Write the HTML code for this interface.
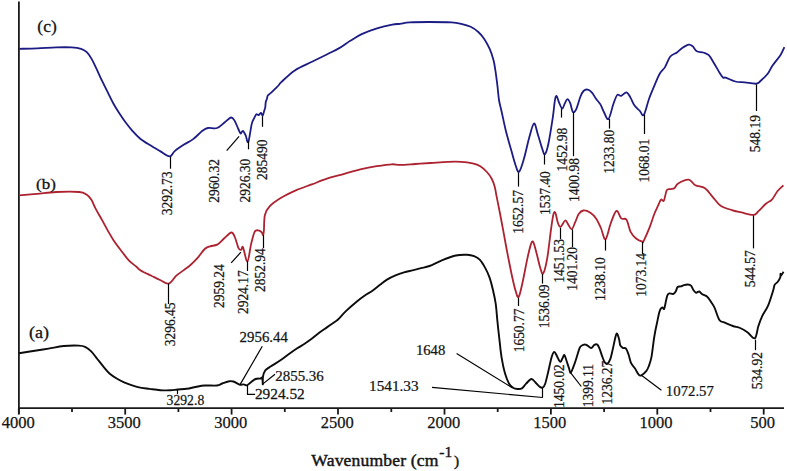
<!DOCTYPE html>
<html><head><meta charset="utf-8"><style>
html,body{margin:0;padding:0;background:#fff;}
body{width:787px;height:471px;overflow:hidden;}
svg{display:block;}
text{font-family:"Liberation Serif",serif;fill:#141414;stroke:#141414;stroke-width:0.25px;}
</style></head><body>
<svg width="787" height="471" viewBox="0 0 787 471">

<g stroke="#1a1a1a" stroke-width="1.8" fill="none">
<line x1="18.9" y1="1.5" x2="18.9" y2="414"/>
<line x1="18" y1="408.2" x2="784" y2="408.2"/>
<line x1="18.8" y1="408" x2="18.8" y2="414.6"/>
<line x1="72.0" y1="408" x2="72.0" y2="412"/>
<line x1="125.2" y1="408" x2="125.2" y2="414.6"/>
<line x1="178.4" y1="408" x2="178.4" y2="412"/>
<line x1="231.6" y1="408" x2="231.6" y2="414.6"/>
<line x1="284.8" y1="408" x2="284.8" y2="412"/>
<line x1="338.0" y1="408" x2="338.0" y2="414.6"/>
<line x1="391.3" y1="408" x2="391.3" y2="412"/>
<line x1="444.5" y1="408" x2="444.5" y2="414.6"/>
<line x1="497.7" y1="408" x2="497.7" y2="412"/>
<line x1="550.9" y1="408" x2="550.9" y2="414.6"/>
<line x1="604.1" y1="408" x2="604.1" y2="412"/>
<line x1="657.3" y1="408" x2="657.3" y2="414.6"/>
<line x1="710.5" y1="408" x2="710.5" y2="412"/>
<line x1="763.7" y1="408" x2="763.7" y2="414.6"/>
</g>
<path d="M19.00,48.80 C22.02,48.73 30.90,48.63 37.10,48.40 C43.30,48.17 50.47,47.57 56.20,47.40 C61.93,47.23 67.35,47.17 71.50,47.40 C75.65,47.63 78.55,48.00 81.10,48.80 C83.65,49.60 85.05,50.52 86.80,52.20 C88.55,53.88 90.02,56.20 91.60,58.90 C93.18,61.60 94.55,64.73 96.30,68.40 C98.05,72.07 100.18,76.92 102.10,80.90 C104.02,84.88 105.90,88.48 107.80,92.30 C109.70,96.12 111.58,100.30 113.50,103.80 C115.42,107.30 117.30,110.22 119.30,113.30 C121.30,116.38 123.32,119.38 125.50,122.30 C127.68,125.22 130.03,128.15 132.40,130.80 C134.77,133.45 136.93,135.90 139.70,138.20 C142.47,140.50 145.62,142.45 149.00,144.60 C152.38,146.75 156.57,149.13 160.00,151.10 C163.43,153.07 167.15,156.40 169.60,156.40 C172.05,156.40 172.30,153.07 174.70,151.10 C177.10,149.13 180.92,146.60 184.00,144.60 C187.08,142.60 190.13,141.40 193.20,139.10 C196.27,136.80 199.95,132.65 202.40,130.80 C204.85,128.95 205.45,128.47 207.90,128.00 C210.35,127.53 214.33,128.92 217.10,128.00 C219.87,127.08 222.20,124.25 224.50,122.50 C226.80,120.75 229.22,117.80 230.90,117.50 C232.58,117.20 233.37,118.78 234.60,120.70 C235.83,122.62 237.28,126.85 238.30,129.00 C239.32,131.15 239.93,133.30 240.70,133.60 C241.47,133.90 242.07,130.50 242.90,130.80 C243.73,131.10 244.80,133.53 245.70,135.40 C246.60,137.27 247.30,143.88 248.30,142.00 C249.30,140.12 250.72,128.08 251.70,124.10 C252.68,120.12 253.42,119.73 254.20,118.10 C254.98,116.47 255.68,114.80 256.40,114.30 C257.12,113.80 257.73,115.32 258.50,115.10 C259.27,114.88 260.30,112.92 261.00,113.00 C261.70,113.08 262.15,116.02 262.70,115.60 C263.25,115.18 263.87,111.92 264.30,110.50 C264.73,109.08 265.07,108.45 265.30,107.10 C265.53,105.75 265.42,103.82 265.70,102.40 C265.98,100.98 266.65,99.73 267.00,98.60 C267.35,97.47 267.10,96.60 267.80,95.60 C268.50,94.60 269.92,93.80 271.20,92.60 C272.48,91.40 274.22,89.67 275.50,88.40 C276.78,87.13 277.90,86.08 278.90,85.00 C279.90,83.92 278.85,84.33 281.50,81.90 C284.15,79.47 289.72,73.75 294.80,70.40 C299.88,67.05 306.58,64.50 312.00,61.80 C317.42,59.10 322.83,56.43 327.30,54.20 C331.77,51.97 334.97,50.63 338.80,48.40 C342.63,46.17 346.48,43.18 350.30,40.80 C354.12,38.42 357.25,36.17 361.70,34.10 C366.15,32.03 371.90,29.98 377.00,28.40 C382.10,26.82 388.47,25.37 392.30,24.60 C396.13,23.83 397.12,24.17 400.00,23.80 C402.88,23.43 404.82,22.70 409.60,22.40 C414.38,22.10 421.70,22.00 428.70,22.00 C435.70,22.00 446.18,22.10 451.60,22.40 C457.02,22.70 458.02,23.07 461.20,23.80 C464.38,24.53 467.85,25.43 470.70,26.80 C473.55,28.17 476.07,30.02 478.30,32.00 C480.53,33.98 482.18,35.83 484.10,38.70 C486.02,41.57 488.22,45.55 489.80,49.20 C491.38,52.85 492.65,56.93 493.60,60.60 C494.55,64.27 494.85,66.90 495.50,71.20 C496.15,75.50 496.92,81.60 497.50,86.40 C498.08,91.20 498.30,95.73 499.00,100.00 C499.70,104.27 500.55,106.83 501.70,112.00 C502.85,117.17 504.32,124.65 505.90,131.00 C507.48,137.35 509.60,144.43 511.20,150.10 C512.80,155.77 514.18,161.38 515.50,165.00 C516.82,168.62 517.68,172.87 519.10,171.80 C520.52,170.73 522.30,164.35 524.00,158.60 C525.70,152.85 527.63,143.15 529.30,137.30 C530.97,131.45 532.58,124.02 534.00,123.50 C535.42,122.98 536.47,130.12 537.80,134.20 C539.13,138.28 540.83,144.65 542.00,148.00 C543.17,151.35 543.73,155.02 544.80,154.30 C545.87,153.58 547.08,149.72 548.40,143.70 C549.72,137.68 551.63,125.28 552.70,118.20 C553.77,111.12 554.17,104.92 554.80,101.20 C555.43,97.48 555.80,95.72 556.50,95.90 C557.20,96.08 558.05,100.17 559.00,102.30 C559.95,104.43 561.23,108.52 562.20,108.70 C563.17,108.88 563.92,105.00 564.80,103.40 C565.68,101.80 566.58,99.10 567.50,99.10 C568.42,99.10 569.42,101.27 570.30,103.40 C571.18,105.53 571.85,110.85 572.80,111.90 C573.75,112.95 574.75,112.18 576.00,109.70 C577.25,107.22 579.05,100.12 580.30,97.00 C581.55,93.88 582.27,92.23 583.50,91.00 C584.73,89.77 586.28,89.32 587.70,89.60 C589.12,89.88 590.58,91.12 592.00,92.70 C593.42,94.28 594.80,97.15 596.20,99.10 C597.60,101.05 599.10,102.22 600.40,104.40 C601.70,106.58 602.65,109.77 604.00,112.20 C605.35,114.63 606.95,120.32 608.50,119.00 C610.05,117.68 611.85,108.30 613.30,104.30 C614.75,100.30 615.88,96.42 617.20,95.00 C618.52,93.58 619.65,96.25 621.20,95.80 C622.75,95.35 624.95,92.00 626.50,92.30 C628.05,92.60 629.17,95.38 630.50,97.60 C631.83,99.82 632.95,103.38 634.50,105.60 C636.05,107.82 638.25,109.35 639.80,110.90 C641.35,112.45 642.27,116.88 643.80,114.90 C645.33,112.92 647.23,103.87 649.00,99.00 C650.77,94.13 652.62,89.90 654.40,85.70 C656.18,81.50 657.93,76.90 659.70,73.80 C661.47,70.70 663.23,69.98 665.00,67.10 C666.77,64.22 668.32,58.93 670.30,56.50 C672.28,54.07 674.92,53.92 676.90,52.50 C678.88,51.08 680.20,49.32 682.20,48.00 C684.20,46.68 687.13,44.87 688.90,44.60 C690.67,44.33 691.48,45.30 692.80,46.40 C694.12,47.50 695.03,50.18 696.80,51.20 C698.57,52.22 701.40,51.83 703.40,52.50 C705.40,53.17 707.03,53.42 708.80,55.20 C710.57,56.98 712.23,60.33 714.00,63.20 C715.77,66.07 717.85,69.98 719.40,72.40 C720.95,74.82 722.25,76.83 723.30,77.70 C724.35,78.57 723.70,76.97 725.70,77.60 C727.70,78.23 732.12,80.70 735.30,81.50 C738.48,82.30 741.30,82.03 744.80,82.40 C748.30,82.77 753.60,84.02 756.30,83.70 C759.00,83.38 759.10,82.15 761.00,80.50 C762.90,78.85 765.80,76.25 767.70,73.80 C769.60,71.35 770.28,68.90 772.40,65.80 C774.52,62.70 778.40,58.30 780.40,55.20 C782.40,52.10 783.73,48.53 784.40,47.20" fill="none" stroke="#1c1c84" stroke-width="1.8" stroke-linejoin="round"/>
<path d="M19.00,195.30 C22.02,195.05 30.90,194.35 37.10,193.80 C43.30,193.25 49.18,192.30 56.20,192.00 C63.22,191.70 74.15,191.57 79.20,192.00 C84.25,192.43 84.47,193.30 86.50,194.60 C88.53,195.90 89.88,197.47 91.40,199.80 C92.92,202.13 93.82,205.22 95.60,208.60 C97.38,211.98 100.07,216.43 102.10,220.10 C104.13,223.77 105.90,227.25 107.80,230.60 C109.70,233.95 111.27,236.85 113.50,240.20 C115.73,243.55 118.65,247.35 121.20,250.70 C123.75,254.05 126.25,257.62 128.80,260.30 C131.35,262.98 134.52,265.12 136.50,266.80 C138.48,268.48 138.23,268.92 140.70,270.40 C143.17,271.88 148.08,274.10 151.30,275.70 C154.52,277.30 157.10,278.68 160.00,280.00 C162.90,281.32 165.98,284.32 168.70,283.60 C171.42,282.88 173.85,277.90 176.30,275.70 C178.75,273.50 181.03,272.18 183.40,270.40 C185.77,268.62 188.13,267.08 190.50,265.00 C192.87,262.92 195.23,260.57 197.60,257.90 C199.97,255.23 202.62,250.93 204.70,249.00 C206.78,247.07 208.02,247.03 210.10,246.30 C212.18,245.57 214.83,245.93 217.20,244.60 C219.57,243.27 221.93,240.32 224.30,238.30 C226.67,236.28 229.62,232.63 231.40,232.50 C233.18,232.37 233.82,234.90 235.00,237.50 C236.18,240.10 237.47,246.03 238.50,248.10 C239.53,250.17 240.45,250.05 241.20,249.90 C241.95,249.75 241.97,245.27 243.00,247.20 C244.03,249.13 246.07,261.93 247.40,261.50 C248.73,261.07 249.82,249.50 251.00,244.60 C252.18,239.70 253.32,234.48 254.50,232.10 C255.68,229.72 256.92,230.30 258.10,230.30 C259.28,230.30 260.77,231.28 261.60,232.10 C262.43,232.92 262.72,235.50 263.10,235.20 C263.48,234.90 263.60,233.67 263.90,230.30 C264.20,226.93 263.95,218.98 264.90,215.00 C265.85,211.02 266.90,209.27 269.60,206.40 C272.30,203.53 276.63,200.52 281.10,197.80 C285.57,195.08 291.30,192.33 296.40,190.10 C301.50,187.87 306.60,186.30 311.70,184.40 C316.80,182.50 321.58,180.45 327.00,178.70 C332.42,176.95 338.47,175.50 344.20,173.90 C349.93,172.30 355.98,170.38 361.40,169.10 C366.82,167.82 371.60,167.00 376.70,166.20 C381.80,165.40 388.12,164.52 392.00,164.30 C395.88,164.08 396.12,164.95 400.00,164.90 C403.88,164.85 410.20,164.32 415.30,164.00 C420.40,163.68 425.18,163.37 430.60,163.00 C436.02,162.63 442.70,162.00 447.80,161.80 C452.90,161.60 457.07,161.53 461.20,161.80 C465.33,162.07 469.42,162.67 472.60,163.40 C475.78,164.13 477.92,164.77 480.30,166.20 C482.68,167.63 485.00,169.92 486.90,172.00 C488.80,174.08 490.42,176.32 491.70,178.70 C492.98,181.08 493.80,183.43 494.60,186.30 C495.40,189.17 495.87,192.72 496.50,195.90 C497.13,199.08 497.77,202.22 498.40,205.40 C499.03,208.58 499.50,210.85 500.30,215.00 C501.10,219.15 502.33,225.63 503.20,230.30 C504.07,234.97 504.78,239.10 505.50,243.00 C506.22,246.90 506.38,248.03 507.50,253.70 C508.62,259.37 510.83,270.77 512.20,277.00 C513.57,283.23 514.62,287.78 515.70,291.10 C516.78,294.42 517.53,298.47 518.70,296.90 C519.87,295.33 521.25,288.12 522.70,281.70 C524.15,275.28 526.03,264.62 527.40,258.40 C528.77,252.18 529.93,247.13 530.90,244.40 C531.87,241.67 532.23,240.45 533.20,242.00 C534.17,243.55 535.53,249.42 536.70,253.70 C537.87,257.98 539.12,264.40 540.20,267.70 C541.28,271.00 542.03,275.05 543.20,273.50 C544.37,271.95 545.87,265.98 547.20,258.40 C548.53,250.82 550.15,235.40 551.20,228.00 C552.25,220.60 552.80,216.53 553.50,214.00 C554.20,211.47 554.70,211.43 555.40,212.80 C556.10,214.17 556.85,219.85 557.70,222.20 C558.55,224.55 559.25,227.18 560.50,226.90 C561.75,226.62 563.92,220.90 565.20,220.50 C566.48,220.10 567.12,223.05 568.20,224.50 C569.28,225.95 570.53,229.58 571.70,229.20 C572.87,228.82 574.03,224.73 575.20,222.20 C576.37,219.67 577.33,215.95 578.70,214.00 C580.07,212.05 581.45,210.70 583.40,210.50 C585.35,210.30 588.27,211.43 590.40,212.80 C592.53,214.17 594.45,216.17 596.20,218.70 C597.95,221.23 599.35,224.57 600.90,228.00 C602.45,231.43 603.88,240.02 605.50,239.30 C607.12,238.58 608.78,228.43 610.60,223.70 C612.42,218.97 614.63,211.78 616.40,210.90 C618.17,210.02 619.52,216.93 621.20,218.40 C622.88,219.87 624.95,217.50 626.50,219.70 C628.05,221.90 628.95,228.52 630.50,231.60 C632.05,234.68 633.82,236.52 635.80,238.20 C637.78,239.88 641.07,241.28 642.40,241.70 C643.73,242.12 642.60,243.08 643.80,240.70 C645.00,238.32 647.85,231.85 649.60,227.40 C651.35,222.95 652.87,217.67 654.30,214.00 C655.73,210.33 657.08,207.80 658.20,205.40 C659.32,203.00 660.05,200.40 661.00,199.60 C661.95,198.80 662.93,202.18 663.90,200.60 C664.87,199.02 665.68,192.02 666.80,190.10 C667.92,188.18 669.33,189.42 670.60,189.10 C671.87,188.78 673.13,189.15 674.40,188.20 C675.67,187.25 675.82,184.83 678.20,183.40 C680.58,181.97 685.83,179.28 688.70,179.60 C691.57,179.92 692.68,183.87 695.40,185.30 C698.12,186.73 702.13,186.28 705.00,188.20 C707.87,190.12 710.05,193.93 712.60,196.80 C715.15,199.67 717.10,203.18 720.30,205.40 C723.50,207.62 728.30,208.93 731.80,210.10 C735.30,211.27 737.65,211.60 741.30,212.40 C744.95,213.20 750.83,215.12 753.70,214.90 C756.57,214.68 756.42,213.00 758.50,211.10 C760.58,209.20 763.97,205.42 766.20,203.50 C768.43,201.58 770.00,201.68 771.90,199.60 C773.80,197.52 775.68,193.38 777.60,191.00 C779.52,188.62 782.43,186.25 783.40,185.30" fill="none" stroke="#ac2230" stroke-width="1.8" stroke-linejoin="round"/>
<path d="M19.00,353.20 C21.37,352.83 28.28,351.77 33.20,351.00 C38.12,350.23 43.42,349.43 48.50,348.60 C53.58,347.77 58.62,346.50 63.70,346.00 C68.78,345.50 75.43,345.47 79.00,345.60 C82.57,345.73 83.07,345.85 85.10,346.80 C87.13,347.75 89.17,349.27 91.20,351.30 C93.23,353.33 95.27,356.45 97.30,359.00 C99.33,361.55 101.37,364.18 103.40,366.60 C105.43,369.02 107.22,371.47 109.50,373.50 C111.78,375.53 114.57,377.28 117.10,378.80 C119.63,380.32 121.22,381.20 124.70,382.60 C128.18,384.00 133.83,386.15 138.00,387.20 C142.17,388.25 145.98,388.40 149.70,388.90 C153.42,389.40 156.83,389.97 160.30,390.20 C163.77,390.43 167.62,390.42 170.50,390.30 C173.38,390.18 174.90,389.75 177.60,389.50 C180.30,389.25 183.70,389.22 186.70,388.80 C189.70,388.38 192.63,387.55 195.60,387.00 C198.57,386.45 200.95,385.75 204.50,385.50 C208.05,385.25 213.93,385.83 216.90,385.50 C219.87,385.17 220.22,384.22 222.30,383.50 C224.38,382.78 227.55,381.53 229.40,381.20 C231.25,380.87 232.03,381.10 233.40,381.50 C234.77,381.90 236.47,383.05 237.60,383.60 C238.73,384.15 239.20,384.67 240.20,384.80 C241.20,384.93 242.47,384.32 243.60,384.40 C244.73,384.48 245.87,385.58 247.00,385.30 C248.13,385.02 248.98,383.75 250.40,382.70 C251.82,381.65 253.80,379.70 255.50,379.00 C257.20,378.30 259.47,378.73 260.60,378.50 C261.73,378.27 261.93,376.62 262.30,377.60 C262.67,378.58 262.68,384.58 262.80,384.40 C262.92,384.22 262.60,378.80 263.00,376.50 C263.40,374.20 264.22,372.08 265.20,370.60 C266.18,369.12 267.28,368.72 268.90,367.60 C270.52,366.48 272.67,365.33 274.90,363.90 C277.13,362.47 279.83,360.73 282.30,359.00 C284.77,357.27 287.22,355.28 289.70,353.50 C292.18,351.72 294.72,349.92 297.20,348.30 C299.68,346.68 302.13,345.42 304.60,343.80 C307.07,342.18 309.52,340.47 312.00,338.60 C314.48,336.73 317.02,334.47 319.50,332.60 C321.98,330.73 324.43,329.13 326.90,327.40 C329.37,325.67 332.45,323.52 334.30,322.20 C336.15,320.88 336.07,321.35 338.00,319.50 C339.93,317.65 342.75,314.12 345.90,311.10 C349.05,308.08 353.68,304.05 356.90,301.40 C360.12,298.75 362.67,296.93 365.20,295.20 C367.73,293.47 369.63,292.73 372.10,291.00 C374.57,289.27 377.52,286.70 380.00,284.80 C382.48,282.90 384.42,281.17 387.00,279.60 C389.58,278.03 392.67,276.60 395.50,275.40 C398.33,274.20 401.17,273.25 404.00,272.40 C406.83,271.55 409.67,271.00 412.50,270.30 C415.33,269.60 418.17,268.92 421.00,268.20 C423.83,267.48 426.02,267.30 429.50,266.00 C432.98,264.70 437.50,262.15 441.90,260.40 C446.30,258.65 451.70,256.43 455.90,255.50 C460.10,254.57 464.07,254.68 467.10,254.80 C470.13,254.92 472.00,255.38 474.10,256.20 C476.20,257.02 477.83,257.72 479.70,259.70 C481.57,261.68 483.68,265.20 485.30,268.10 C486.92,271.00 488.13,273.50 489.40,277.10 C490.67,280.70 491.85,285.27 492.90,289.70 C493.95,294.13 494.93,298.32 495.70,303.70 C496.47,309.08 496.85,315.75 497.50,322.00 C498.15,328.25 498.90,335.17 499.60,341.20 C500.30,347.23 500.82,352.88 501.70,358.20 C502.58,363.52 503.67,368.85 504.90,373.10 C506.13,377.35 507.68,381.22 509.10,383.70 C510.52,386.18 511.98,387.12 513.40,388.00 C514.82,388.88 516.18,388.93 517.60,389.00 C519.02,389.07 520.48,389.28 521.90,388.40 C523.32,387.52 524.52,385.27 526.10,383.70 C527.68,382.13 529.80,379.17 531.40,379.00 C533.00,378.83 534.28,381.38 535.70,382.70 C537.12,384.02 538.73,386.10 539.90,386.90 C541.07,387.70 541.82,388.03 542.70,387.50 C543.58,386.97 544.25,386.45 545.20,383.70 C546.15,380.95 547.33,375.42 548.40,371.00 C549.47,366.58 550.63,360.38 551.60,357.20 C552.57,354.02 553.32,352.12 554.20,351.90 C555.08,351.68 556.05,354.43 556.90,355.90 C557.75,357.37 558.63,359.77 559.30,360.70 C559.97,361.63 560.37,361.90 560.90,361.50 C561.43,361.10 561.92,359.37 562.50,358.30 C563.08,357.23 563.73,354.70 564.40,355.10 C565.07,355.50 565.75,358.57 566.50,360.70 C567.25,362.83 568.18,365.92 568.90,367.90 C569.62,369.88 569.87,373.27 570.80,372.60 C571.73,371.93 573.37,366.95 574.50,363.90 C575.63,360.85 576.68,357.08 577.60,354.30 C578.52,351.52 579.07,348.78 580.00,347.20 C580.93,345.62 582.13,345.20 583.20,344.80 C584.27,344.40 585.07,344.27 586.40,344.80 C587.73,345.33 589.87,348.00 591.20,348.00 C592.53,348.00 593.35,345.33 594.40,344.80 C595.45,344.27 596.58,344.00 597.50,344.80 C598.42,345.60 599.10,347.62 599.90,349.60 C600.70,351.58 601.50,354.58 602.30,356.70 C603.10,358.82 603.90,361.10 604.70,362.30 C605.50,363.50 606.17,364.43 607.10,363.90 C608.03,363.37 609.37,361.48 610.30,359.10 C611.23,356.72 611.68,353.80 612.70,349.60 C613.72,345.40 615.35,335.67 616.40,333.90 C617.45,332.13 618.35,337.08 619.00,339.00 C619.65,340.92 619.67,343.92 620.30,345.40 C620.93,346.88 621.85,347.37 622.80,347.90 C623.75,348.43 625.05,347.53 626.00,348.60 C626.95,349.67 627.65,351.87 628.50,354.30 C629.35,356.73 630.03,360.87 631.10,363.20 C632.17,365.53 633.63,366.38 634.90,368.30 C636.17,370.22 637.63,373.52 638.70,374.70 C639.77,375.88 640.02,376.03 641.30,375.40 C642.58,374.77 645.13,372.50 646.40,370.90 C647.67,369.30 648.05,368.13 648.90,365.80 C649.75,363.47 650.68,361.20 651.50,356.90 C652.32,352.60 653.17,344.32 653.80,340.00 C654.43,335.68 654.73,334.00 655.30,331.00 C655.87,328.00 656.57,324.98 657.20,322.00 C657.83,319.02 658.57,315.22 659.10,313.10 C659.63,310.98 659.87,310.25 660.40,309.30 C660.93,308.35 661.67,307.50 662.30,307.40 C662.93,307.30 663.57,309.87 664.20,308.70 C664.83,307.53 665.57,302.63 666.10,300.40 C666.63,298.17 666.87,296.47 667.40,295.30 C667.93,294.13 668.35,293.62 669.30,293.40 C670.25,293.18 672.03,294.32 673.10,294.00 C674.17,293.68 674.95,292.67 675.70,291.50 C676.45,290.33 676.75,287.85 677.60,287.00 C678.45,286.15 679.73,286.72 680.80,286.40 C681.87,286.08 682.83,285.42 684.00,285.10 C685.17,284.78 686.63,284.40 687.80,284.50 C688.97,284.60 690.05,284.75 691.00,285.70 C691.95,286.65 692.65,289.03 693.50,290.20 C694.35,291.37 695.15,292.48 696.10,292.70 C697.05,292.92 698.17,291.23 699.20,291.50 C700.23,291.77 700.97,293.43 702.30,294.30 C703.63,295.17 705.78,295.48 707.20,296.70 C708.62,297.92 709.58,299.77 710.80,301.60 C712.02,303.43 713.07,304.63 714.50,307.70 C715.93,310.77 717.78,317.55 719.40,320.00 C721.02,322.45 721.97,321.40 724.20,322.40 C726.43,323.40 730.15,325.07 732.80,326.00 C735.45,326.93 737.67,326.97 740.10,328.00 C742.53,329.03 744.95,330.48 747.40,332.20 C749.85,333.92 752.97,339.33 754.80,338.30 C756.63,337.27 757.18,329.67 758.40,326.00 C759.62,322.33 760.47,319.75 762.10,316.30 C763.73,312.85 766.33,309.68 768.20,305.30 C770.07,300.92 772.23,293.40 773.30,290.00 C774.37,286.60 773.85,286.28 774.60,284.90 C775.35,283.52 776.85,282.98 777.80,281.70 C778.75,280.42 779.85,278.52 780.30,277.20 C780.75,275.88 780.33,274.12 780.50,273.80 C780.67,273.48 780.80,275.63 781.30,275.30 C781.80,274.97 783.13,272.38 783.50,271.80" fill="none" stroke="#0c0c0c" stroke-width="1.9" stroke-linejoin="round"/>
<g stroke="#000" stroke-width="1.2" fill="none">
<polyline points="170.5,156.8 170.5,168.7"/>
<polyline points="226.7,150.6 239.1,136.3"/>
<polyline points="248.5,141.0 248.5,149.3"/>
<polyline points="262.5,116.2 262.5,126.8"/>
<polyline points="518.5,172.8 518.5,186.6"/>
<polyline points="544.5,154.8 544.5,164.5"/>
<polyline points="561.5,108.5 561.5,117.6"/>
<polyline points="573.5,112.0 573.5,156.2"/>
<polyline points="609.5,119.0 609.5,128.6"/>
<polyline points="644.5,114.5 644.5,134.0"/>
<polyline points="756.5,84.3 756.5,111.0"/>
<polyline points="168.5,283.6 168.5,304.0"/>
<polyline points="231.2,262.9 240.9,252.2"/>
<polyline points="247.5,261.0 247.5,271.0"/>
<polyline points="263.5,235.0 263.5,248.0"/>
<polyline points="518.5,298.0 518.5,306.0"/>
<polyline points="542.5,274.0 542.5,283.6"/>
<polyline points="560.5,227.8 560.5,239.0"/>
<polyline points="572.5,229.4 572.5,247.0"/>
<polyline points="605.5,239.5 605.5,250.6"/>
<polyline points="642.5,242.0 642.5,254.0"/>
<polyline points="753.5,215.5 753.5,248.4"/>
<polyline points="177.5,389.7 177.5,394.1"/>
<polyline points="262.3,346.2 240.2,384.4"/>
<polyline points="247.5,385.3 247.5,394.3 255.1,394.3"/>
<polyline points="262.3,384.4 275.0,374.2"/>
<polyline points="456.6,353.6 512.2,387.7"/>
<polyline points="432.0,387.3 542.7,397.5"/>
<polyline points="542.5,387.5 542.5,397.5"/>
<polyline points="570.5,372.6 581.3,386.5"/>
<polyline points="641.4,375.3 661.4,390.2"/>
<polyline points="755.5,339.7 755.5,350.2"/>
</g>
<text transform="translate(171.74,215.29) rotate(-90) scale(0.95,1)" font-size="14.2">3292.73</text>
<text transform="translate(218.92,202.84) rotate(-90) scale(0.95,1)" font-size="14.2">2960.32</text>
<text transform="translate(250.37,202.52) rotate(-90) scale(0.95,1)" font-size="14.2">2926.30</text>
<text transform="translate(266.52,179.99) rotate(-90) scale(0.95,1)" font-size="14.2">285490</text>
<text transform="translate(522.84,233.83) rotate(-90) scale(0.95,1)" font-size="14.2">1652.57</text>
<text transform="translate(550.04,214.96) rotate(-90) scale(0.95,1)" font-size="14.2">1537.40</text>
<text transform="translate(566.64,171.56) rotate(-90) scale(0.95,1)" font-size="14.2">1452.98</text>
<text transform="translate(579.04,201.91) rotate(-90) scale(0.95,1)" font-size="14.2">1400.98</text>
<text transform="translate(613.94,173.66) rotate(-90) scale(0.95,1)" font-size="14.2">1233.80</text>
<text transform="translate(649.34,182.47) rotate(-90) scale(0.95,1)" font-size="14.2">1068.01</text>
<text transform="translate(760.29,152.18) rotate(-90) scale(0.95,1)" font-size="14.2">548.19</text>
<text transform="translate(175.47,346.29) rotate(-90) scale(0.95,1)" font-size="14.2">3296.45</text>
<text transform="translate(224.19,308.06) rotate(-90) scale(0.95,1)" font-size="14.2">2959.24</text>
<text transform="translate(247.97,314.09) rotate(-90) scale(0.95,1)" font-size="14.2">2924.17</text>
<text transform="translate(265.42,291.96) rotate(-90) scale(0.95,1)" font-size="14.2">2852.94</text>
<text transform="translate(523.54,352.33) rotate(-90) scale(0.95,1)" font-size="14.2">1650.77</text>
<text transform="translate(549.04,328.26) rotate(-90) scale(0.95,1)" font-size="14.2">1536.09</text>
<text transform="translate(564.12,282.76) rotate(-90) scale(0.95,1)" font-size="14.2">1451.53</text>
<text transform="translate(577.04,290.76) rotate(-90) scale(0.95,1)" font-size="14.2">1401.20</text>
<text transform="translate(604.94,300.96) rotate(-90) scale(0.95,1)" font-size="14.2">1238.10</text>
<text transform="translate(645.69,296.74) rotate(-90) scale(0.95,1)" font-size="14.2">1073.14</text>
<text transform="translate(755.14,287.20) rotate(-90) scale(0.95,1)" font-size="14.2">544.57</text>
<text transform="translate(564.29,407.92) rotate(-90) scale(0.95,1)" font-size="14.2">1450.02</text>
<text transform="translate(593.01,407.25) rotate(-90) scale(0.95,1)" font-size="14.2">1399.11</text>
<text transform="translate(612.04,404.53) rotate(-90) scale(0.95,1)" font-size="14.2">1236.27</text>
<text transform="translate(762.49,389.15) rotate(-90) scale(0.95,1)" font-size="14.2">534.92</text>
<text transform="translate(166.62,404.93) scale(0.912,1)" font-size="15.0">3292.8</text>
<text transform="translate(239.60,342.03) scale(0.993,1)" font-size="15.0">2956.44</text>
<text transform="translate(254.89,398.60) scale(1.024,1)" font-size="15.0">2924.52</text>
<text transform="translate(275.20,380.62) scale(0.998,1)" font-size="15.0">2855.36</text>
<text transform="translate(415.88,354.70) scale(0.980,1)" font-size="15.0">1648</text>
<text transform="translate(369.03,391.18) scale(1.017,1)" font-size="15.0">1541.33</text>
<text transform="translate(665.87,396.15) scale(0.986,1)" font-size="15.0">1072.57</text>
<text x="1.66" y="428.20" font-size="16.5">4000</text>
<text x="107.83" y="428.20" font-size="16.5">3500</text>
<text x="214.25" y="428.20" font-size="16.5">3000</text>
<text x="320.75" y="428.20" font-size="16.5">2500</text>
<text x="427.16" y="428.20" font-size="16.5">2000</text>
<text x="533.16" y="428.28" font-size="16.5">1500</text>
<text x="639.58" y="428.28" font-size="16.5">1000</text>
<text x="750.37" y="428.20" font-size="16.5">500</text>
<text x="311.3" y="465.9" font-size="17.6" textLength="127.2" lengthAdjust="spacing" style="stroke-width:0.45px" xml:space="preserve">Wavenumber (cm</text>
<text x="439.3" y="457.1" font-size="15.5" style="stroke-width:0.4px">-1</text>
<text x="454.1" y="465.9" font-size="15.5" style="stroke-width:0.4px">)</text>
<text x="0" y="0" font-size="17.5" style="stroke-width:0.3px" transform="translate(37.3,31.9) scale(1.0,1)">(c)</text>
<text x="0" y="0" font-size="15.6" style="stroke-width:0.3px" transform="translate(36.1,188.5) scale(1.09,1)">(b)</text>
<text x="0" y="0" font-size="16" style="stroke-width:0.3px" transform="translate(28.9,338.3) scale(1.13,1)">(a)</text>
</svg></body></html>
